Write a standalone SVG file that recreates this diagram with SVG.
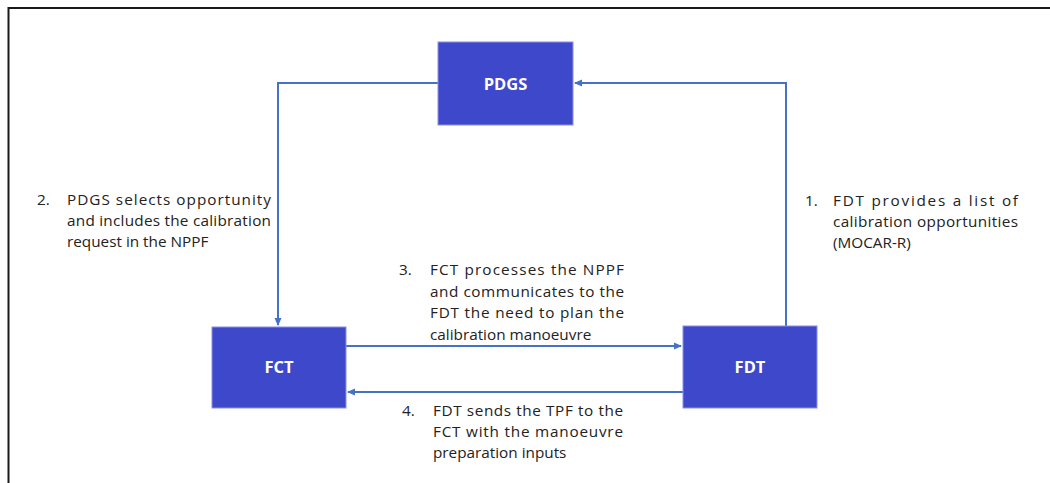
<svg xmlns="http://www.w3.org/2000/svg" width="1050" height="483" viewBox="0 0 1050 483">
<style>
.box{fill:#3e48cb;stroke:#8a90e0;stroke-width:1}
.nl{font-family:"Open Sans","Liberation Sans",sans-serif;font-weight:bold;font-size:16.5px;fill:#fff;text-anchor:middle}
.t{font-family:"Open Sans","Liberation Sans",sans-serif;font-size:15.3px;fill:#222}
.c{fill:none;stroke:#4472c4;stroke-width:2}
</style>
<defs>
<marker id="ah" markerWidth="8" markerHeight="8" refX="7" refY="4" orient="auto" markerUnits="userSpaceOnUse">
<path d="M0,0.5 L8,4 L0,7.5 Z" fill="#4472c4"/>
</marker>
</defs>
<rect x="0" y="0" width="1050" height="483" fill="#fff"/>
<path d="M8.5,483 V8 H1050" fill="none" stroke="#1a1a1a" stroke-width="2"/>
<g id="connectors">
<path class="c" d="M786,326 V83 H575" marker-end="url(#ah)"/>
<path class="c" d="M438,83 H278 V325" marker-end="url(#ah)"/>
<path class="c" d="M346,346 H681" marker-end="url(#ah)"/>
<path class="c" d="M683,392 H348" marker-end="url(#ah)"/>
</g>
<g id="PDGS"><rect class="box" x="438" y="42" width="135" height="83"/><text class="nl" x="505.5" y="90">PDGS</text></g>
<g id="FCT"><rect class="box" x="212" y="327" width="134" height="81"/><text class="nl" x="279" y="373">FCT</text></g>
<g id="FDT"><rect class="box" x="683" y="326" width="134" height="82"/><text class="nl" x="750" y="373">FDT</text></g>
<g id="label2" class="t">
<text x="37" y="205">2.</text>
<text x="67" y="205" textLength="204" lengthAdjust="spacing">PDGS selects opportunity</text>
<text x="67" y="226" textLength="204" lengthAdjust="spacing">and includes the calibration</text>
<text x="67" y="247">request in the NPPF</text>
</g>
<g id="label1" class="t">
<text x="805" y="206">1.</text>
<text x="833" y="206" textLength="185" lengthAdjust="spacing">FDT provides a list of</text>
<text x="833" y="227" textLength="185" lengthAdjust="spacing">calibration opportunities</text>
<text x="833" y="248">(MOCAR-R)</text>
</g>
<g id="label3" class="t">
<text x="399" y="275">3.</text>
<text x="430" y="275" textLength="194" lengthAdjust="spacing">FCT processes the NPPF</text>
<text x="430" y="297" textLength="194" lengthAdjust="spacing">and communicates to the</text>
<text x="430" y="318" textLength="194" lengthAdjust="spacing">FDT the need to plan the</text>
<text x="430" y="340">calibration manoeuvre</text>
</g>
<g id="label4" class="t">
<text x="402" y="416">4.</text>
<text x="433" y="416" textLength="190" lengthAdjust="spacing">FDT sends the TPF to the</text>
<text x="433" y="437" textLength="190" lengthAdjust="spacing">FCT with the manoeuvre</text>
<text x="433" y="458">preparation inputs</text>
</g>
</svg>
